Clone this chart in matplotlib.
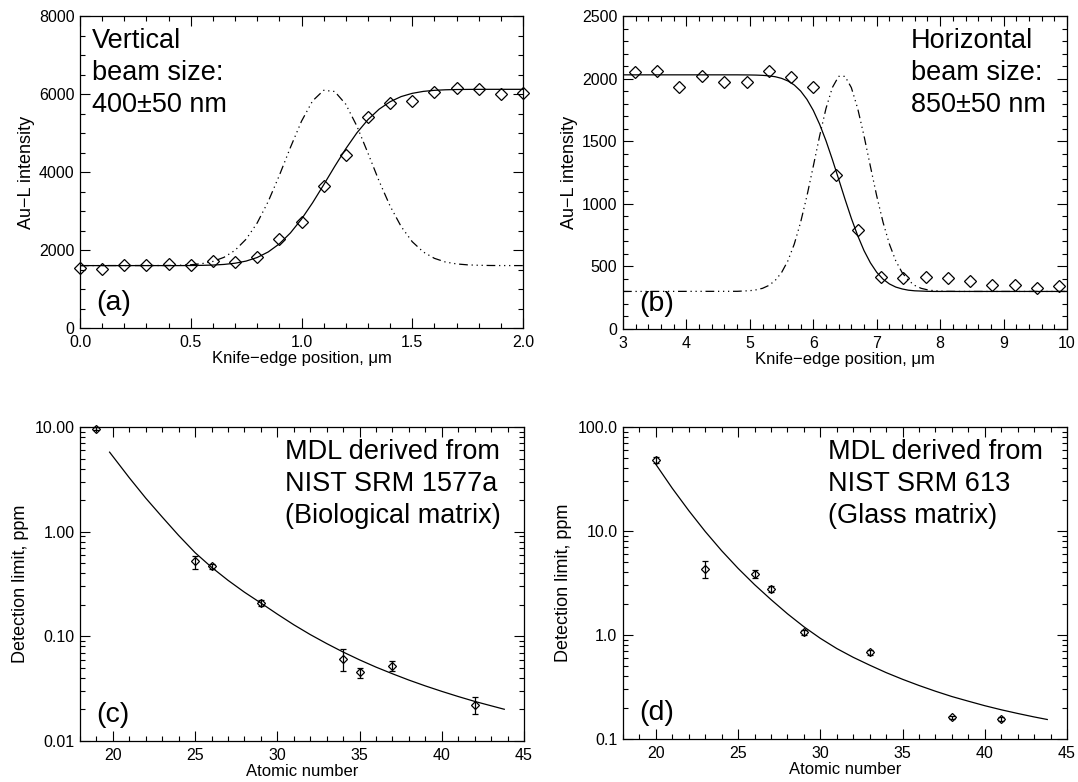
import matplotlib
matplotlib.use('Agg')
import matplotlib.pyplot as plt
from matplotlib.ticker import MultipleLocator, FixedLocator, LogLocator, NullFormatter, FixedFormatter, FormatStrFormatter

plt.rcParams['font.family'] = ['Liberation Sans', 'DejaVu Sans']

# ---------------- data ----------------
# (a) vertical knife-edge scan
a_x = [0.0, 0.1, 0.2, 0.3, 0.4, 0.5, 0.6, 0.7, 0.8, 0.9, 1.0, 1.1, 1.2, 1.3, 1.4, 1.5, 1.6, 1.7, 1.8, 1.9, 2.0]
a_y = [1537, 1511, 1622, 1605, 1631, 1605, 1725, 1699, 1810, 2280, 2724, 3629, 4440, 5405, 5781, 5832, 6046, 6149, 6123, 6012, 6038]
a_fit_x = [0.0, 0.40, 0.45, 0.50, 0.55, 0.60, 0.65, 0.70, 0.75, 0.80, 0.85, 0.90, 0.95, 1.00, 1.05, 1.10,
           1.15, 1.20, 1.25, 1.30, 1.35, 1.40, 1.45, 1.50, 1.55, 1.60, 1.65, 1.70, 1.75, 1.80, 1.85, 1.90, 2.00]
a_fit_step = [1600, 1600, 1600, 1602, 1606, 1614, 1630, 1661, 1716, 1808, 1951, 2158, 2438, 2792, 3211, 3671,
              4144, 4597, 5004, 5343, 5609, 5802, 5934, 6017, 6067, 6094, 6108, 6115, 6118, 6119, 6120, 6120, 6120]
a_fit_peak = [1600, 1603, 1609, 1622, 1650, 1707, 1812, 1992, 2278, 2694, 3247, 3913, 4630, 5302, 5823, 6095,
              6064, 5737, 5177, 4485, 3771, 3127, 2600, 2212, 1949, 1786, 1692, 1643, 1619, 1608, 1603, 1601, 1600]

# (b) horizontal knife-edge scan
b_x = [3.19, 3.54, 3.89, 4.25, 4.60, 4.95, 5.30, 5.65, 6.00, 6.36, 6.71, 7.06, 7.41, 7.77, 8.12, 8.47, 8.82, 9.18, 9.53, 9.88]
b_y = [2056, 2061, 1931, 2021, 1976, 1976, 2061, 2016, 1936, 1231, 793, 415, 407, 415, 407, 386, 348, 348, 327, 340]
b_fit_x = [3.0, 4.8, 5.0, 5.1, 5.2, 5.3, 5.4, 5.5, 5.6, 5.7, 5.8, 5.9, 6.0, 6.1, 6.2, 6.3, 6.4, 6.5,
           6.6, 6.7, 6.8, 6.9, 7.0, 7.1, 7.2, 7.3, 7.4, 7.5, 7.6, 7.7, 7.8, 7.9, 8.0, 8.1, 8.3, 10.0]
b_fit_step = [2030, 2030, 2029, 2028, 2026, 2022, 2015, 2002, 1981, 1949, 1901, 1834, 1746, 1635, 1504, 1355, 1197, 1037,
              884, 746, 626, 529, 453, 398, 360, 335, 320, 310, 305, 303, 301, 300, 300, 300, 300, 300]
b_fit_peak = [300, 301, 306, 313, 325, 348, 388, 451, 545, 678, 852, 1063, 1300, 1542, 1761, 1928, 2018, 2018,
              1928, 1761, 1542, 1300, 1063, 852, 678, 545, 451, 388, 348, 325, 313, 306, 303, 301, 300, 300]

# (c) MDL, NIST SRM 1577a
c_z = [19, 25, 26, 29, 34, 35, 37, 42]
c_val = [9.6, 0.52, 0.466, 0.208, 0.0607, 0.0453, 0.0525, 0.0222]
c_err_lo = [0.3, 0.08, 0.03, 0.012, 0.014, 0.0053, 0.0055, 0.0039]
c_err_hi = [0.3, 0.07, 0.03, 0.012, 0.0154, 0.0047, 0.0055, 0.0043]
c_fit_z = [19.8, 21, 22, 23, 24, 25, 26, 27, 28, 29, 30, 31, 32, 33, 34, 35, 36, 37, 38, 39, 40, 41, 42, 43, 43.8]
c_fit_v = [5.75, 3.27, 2.09, 1.38, 0.92, 0.63, 0.457, 0.343, 0.264, 0.208, 0.163, 0.129, 0.104, 0.0853, 0.0708,
           0.0596, 0.0508, 0.0439, 0.0382, 0.0336, 0.0298, 0.0266, 0.0239, 0.0217, 0.0201]

# (d) MDL, NIST SRM 613
d_z = [20, 23, 26, 27, 29, 33, 38, 41]
d_val = [48.5, 4.3, 3.9, 2.77, 1.06, 0.68, 0.161, 0.156]
d_err_lo = [3.5, 0.76, 0.35, 0.18, 0.06, 0.04, 0.007, 0.007]
d_err_hi = [3.5, 0.80, 0.35, 0.18, 0.06, 0.04, 0.007, 0.007]
d_fit_z = [20, 21, 22, 23, 24, 25, 26, 27, 28, 29, 30, 31, 32, 33, 34, 35, 36, 37, 38, 39, 40, 41, 42, 43, 43.8]
d_fit_v = [43.7, 25.7, 15.7, 9.89, 6.46, 4.37, 3.05, 2.19, 1.60, 1.20, 0.929, 0.741, 0.610, 0.513, 0.435,
           0.375, 0.327, 0.288, 0.256, 0.231, 0.209, 0.191, 0.176, 0.163, 0.154]

texts = {
    'a': "Vertical\nbeam size:\n400\u00b150 nm",
    'b': "Horizontal\nbeam size:\n850\u00b150 nm",
    'c': "MDL derived from\nNIST SRM 1577a\n(Biological matrix)",
    'd': "MDL derived from\nNIST SRM 613\n(Glass matrix)",
}

# ---------------- figure ----------------
W, H = 1078, 782
fig = plt.figure(figsize=(W / 100, H / 100), dpi=100)


def rect(l, t, r, b):
    return [l / W, 1 - b / H, (r - l) / W, (b - t) / H]


ax_a = fig.add_axes(rect(80, 16, 523, 328))
ax_b = fig.add_axes(rect(623, 16, 1067, 329))
ax_c = fig.add_axes(rect(80, 427, 524, 741))
ax_d = fig.add_axes(rect(623, 427, 1067, 739))

TICK_FS = 11.5
XLAB_FS = 12
YLAB_FS = 13
ANN_FS = 19.5
PAN_FS = 20.5
LS = 1.3
dash4 = (0, (7, 3, 1, 3, 1, 3, 1, 3))


def style(ax):
    for s in ax.spines.values():
        s.set_linewidth(0.9)
    ax.tick_params(which='both', direction='in', top=True, right=True, width=0.8,
                   labelsize=TICK_FS)
    ax.tick_params(which='major', length=7)
    ax.tick_params(which='minor', length=3.5)
    ax.tick_params(axis='x', pad=5)
    ax.tick_params(axis='y', pad=4)


# (a)
ax = ax_a
ax.plot(a_fit_x, a_fit_step, color='black', lw=0.9)
ax.plot(a_fit_x, a_fit_peak, color='black', lw=0.9, linestyle=dash4)
ax.plot(a_x, a_y, linestyle='none', marker='D', markersize=6, mfc='none', mec='black', mew=0.9,
        clip_on=False)
ax.set_xlim(0, 2.0)
ax.set_ylim(0, 8000)
ax.xaxis.set_major_locator(MultipleLocator(0.5))
ax.xaxis.set_minor_locator(MultipleLocator(0.1))
ax.yaxis.set_major_locator(MultipleLocator(2000))
ax.yaxis.set_minor_locator(MultipleLocator(500))
ax.xaxis.set_major_formatter(FormatStrFormatter('%.1f'))
ax.set_xlabel("Knife\u2212edge position, \u03bcm", fontsize=XLAB_FS, labelpad=1)
ax.set_ylabel("Au\u2212L intensity", fontsize=YLAB_FS, labelpad=3)
style(ax)
ax.text(0.027, 0.962, texts['a'], transform=ax.transAxes, fontsize=ANN_FS, va='top', ha='left',
        linespacing=LS)
ax.text(0.036, 0.058, "(a)", transform=ax.transAxes, fontsize=PAN_FS, va='baseline', ha='left')

# (b)
ax = ax_b
ax.plot(b_fit_x, b_fit_step, color='black', lw=0.9)
ax.plot(b_fit_x, b_fit_peak, color='black', lw=0.9, linestyle=dash4)
ax.plot(b_x, b_y, linestyle='none', marker='D', markersize=6, mfc='none', mec='black', mew=0.9,
        clip_on=False)
ax.set_xlim(3, 10)
ax.set_ylim(0, 2500)
ax.xaxis.set_major_locator(MultipleLocator(1))
ax.xaxis.set_minor_locator(MultipleLocator(0.2))
ax.yaxis.set_major_locator(MultipleLocator(500))
ax.yaxis.set_minor_locator(MultipleLocator(100))
ax.set_xlabel("Knife\u2212edge position, \u03bcm", fontsize=XLAB_FS, labelpad=1)
ax.set_ylabel("Au\u2212L intensity", fontsize=YLAB_FS, labelpad=3)
style(ax)
ax.text(0.648, 0.962, texts['b'], transform=ax.transAxes, fontsize=ANN_FS, va='top', ha='left',
        linespacing=LS)
ax.text(0.036, 0.058, "(b)", transform=ax.transAxes, fontsize=PAN_FS, va='baseline', ha='left')


def log_panel(ax, z, v, lo, hi, fz, fv, ylim, ticks, ticklabels, txt, tag):
    ax.plot(fz, fv, color='black', lw=0.9)
    ax.errorbar(z, v, yerr=[lo, hi], fmt='D', markersize=4.5, mfc='none', mec='black', mew=0.9,
                ecolor='black', elinewidth=0.9, capsize=2.5, capthick=0.9, clip_on=False)
    ax.set_yscale('log')
    ax.set_xlim(18, 45)
    ax.set_ylim(*ylim)
    ax.xaxis.set_major_locator(MultipleLocator(5))
    ax.xaxis.set_minor_locator(MultipleLocator(1))
    ax.yaxis.set_major_locator(FixedLocator(ticks))
    ax.yaxis.set_major_formatter(FixedFormatter(ticklabels))
    ax.yaxis.set_minor_locator(LogLocator(base=10, subs=range(2, 10)))
    ax.yaxis.set_minor_formatter(NullFormatter())
    ax.set_xlabel("Atomic number", fontsize=XLAB_FS, labelpad=1)
    ax.set_ylabel("Detection limit, ppm", fontsize=YLAB_FS, labelpad=4)
    style(ax)
    ax.text(0.462, 0.962, txt, transform=ax.transAxes, fontsize=ANN_FS, va='top', ha='left',
            linespacing=LS)
    ax.text(0.036, 0.06, tag, transform=ax.transAxes, fontsize=PAN_FS, va='baseline', ha='left')


log_panel(ax_c, c_z, c_val, c_err_lo, c_err_hi, c_fit_z, c_fit_v, (0.01, 10),
          [0.01, 0.1, 1, 10], ["0.01", "0.10", "1.00", "10.00"], texts['c'], "(c)")
log_panel(ax_d, d_z, d_val, d_err_lo, d_err_hi, d_fit_z, d_fit_v, (0.1, 100),
          [0.1, 1, 10, 100], ["0.1", "1.0", "10.0", "100.0"], texts['d'], "(d)")

fig.savefig('out.png', dpi=100)
